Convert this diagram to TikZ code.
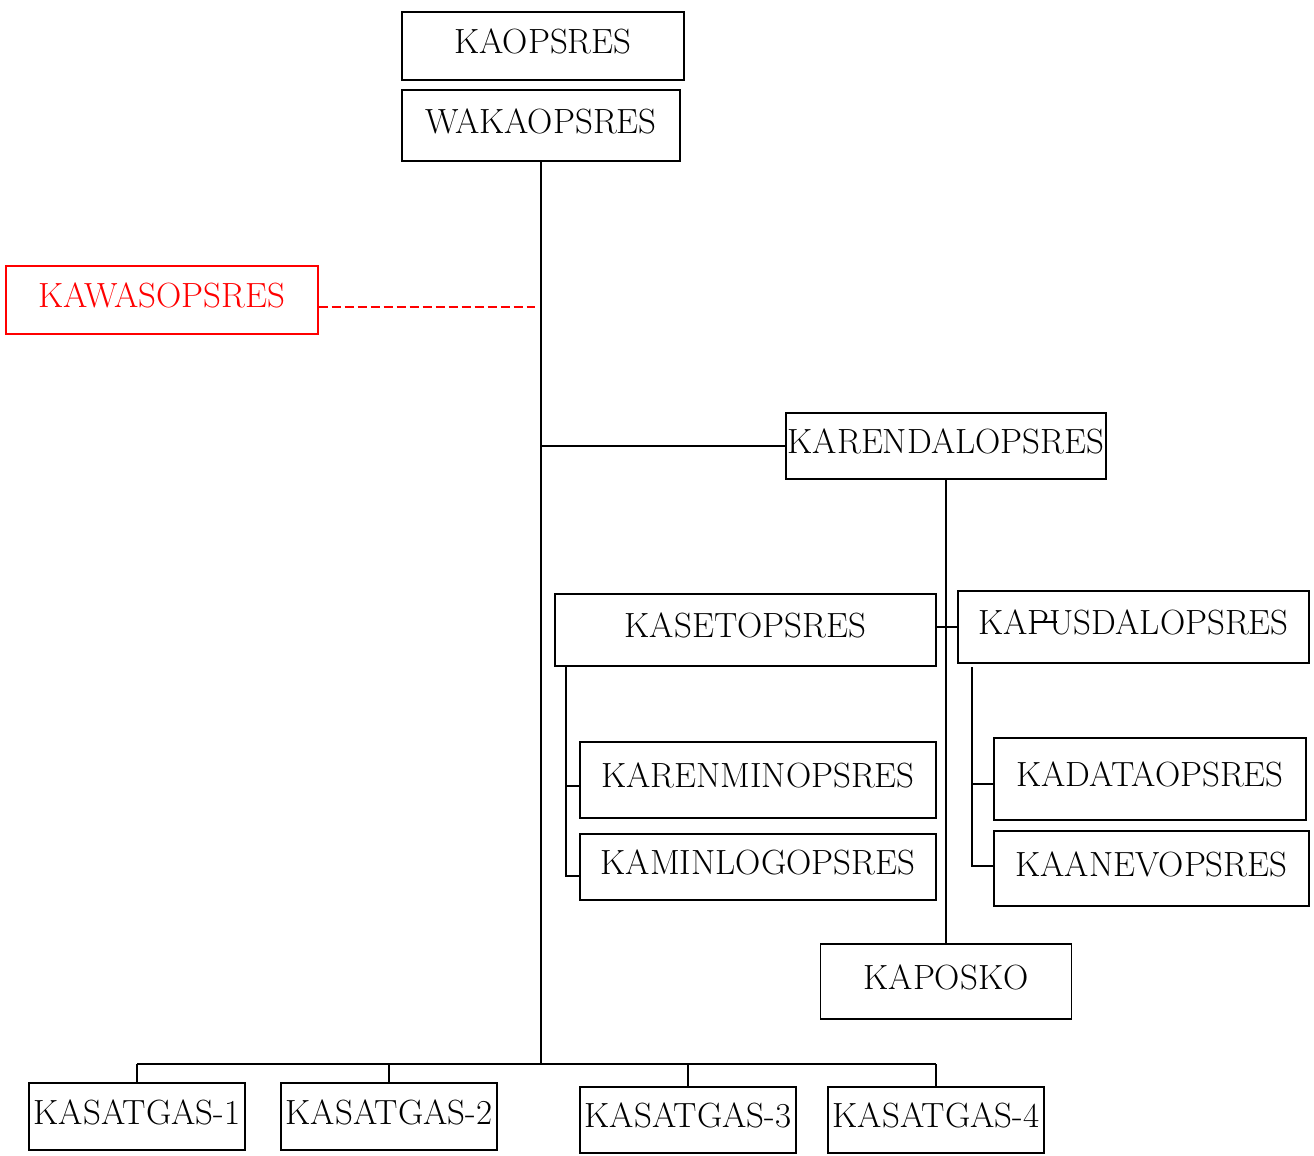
\documentclass[tikz,border=0pt]{standalone}
\usepackage{tikz}

\begin{document}
\begin{tikzpicture}[x=1pt,y=-1pt]
\tikzstyle{unit}=[rectangle, draw=black, line width=1.2pt, inner sep=0pt, text height=24pt, text depth=9pt, font=\fontsize{35}{40}\selectfont]
\tikzstyle{outside}=[unit, draw=red, text=red]
\tikzstyle{link}=[line width=2pt]
\tikzstyle{drop}=[line width=1.5pt]
\tikzstyle{tie}=[red, line width=1.5pt, dash pattern=on 9pt off 4pt]
\useasboundingbox (0,0) rectangle (1314,1156);
  \node[unit, minimum width=282pt, minimum height=68pt] (kaops) at (543,46) {KAOPSRES};
  \node[unit, minimum width=278pt, minimum height=71pt] (wakaops) at (541,125.5) {WAKAOPSRES};
  \node[outside, minimum width=312pt, minimum height=68pt] (kawas) at (162,300) {KAWASOPSRES};
  \node[unit, minimum width=320pt, minimum height=66pt] (karendal) at (946,446) {KARENDALOPSRES};
  \node[unit, minimum width=381pt, minimum height=72pt] (kaset) at (745.5,630) {KASETOPSRES};
  \node[unit, minimum width=351pt, minimum height=72pt] (kapus) at (1133.5,627) {KAPUSDALOPSRES};
  \node[unit, minimum width=356pt, minimum height=76pt] (karenmin) at (758,780) {KARENMINOPSRES};
  \node[unit, minimum width=356pt, minimum height=66pt] (kamin) at (758,867) {KAMINLOGOPSRES};
  \node[unit, minimum width=312pt, minimum height=82pt] (kadata) at (1150,779) {KADATAOPSRES};
  \node[unit, minimum width=315pt, minimum height=75pt] (kaanev) at (1151.5,868.5) {KAANEVOPSRES};
  \node[unit, minimum width=251pt, minimum height=75pt] (kaposko) at (946,981.5) {KAPOSKO};
  \node[unit, minimum width=216pt, minimum height=67pt] (gas1) at (137,1116.5) {KASATGAS-1};
  \node[unit, minimum width=216pt, minimum height=67pt] (gas2) at (389,1116.5) {KASATGAS-2};
  \node[unit, minimum width=216pt, minimum height=66pt] (gas3) at (688,1120) {KASATGAS-3};
  \node[unit, minimum width=216pt, minimum height=66pt] (gas4) at (936,1120) {KASATGAS-4};
  \coordinate (trunkend) at (541,1064);
  \coordinate (tieend) at (535,307);
  \coordinate (setrail) at (566,666);
  \coordinate (pusrail) at (972,667);
  % trunk and branches
  \draw[link] (wakaops.south) -- (trunkend);
  \draw[tie] ([yshift=-7pt]kawas.east) -- (tieend);
  \draw[link] (wakaops.south |- karendal.west) -- (karendal.west);
  \draw[link] (karendal.south) -- (kaposko.north);
  \draw[link] (kaset.east |- kapus.west) -- (kapus.west);
  \draw[link] ([xshift=75pt,yshift=5pt]kapus.west) -- ++(25,0);
  % sub branches
  \draw[link] (setrail) |- ([yshift=-9pt]kamin.west);
  \draw[link] (setrail |- 0,786) -- ([yshift=-6pt]karenmin.west);
  \draw[link] (pusrail) |- ([yshift=2.5pt]kaanev.west);
  \draw[link] (pusrail |- 0,784) -- ([yshift=-5pt]kadata.west);
  % bottom row
  \draw[link] (gas1.north |- trunkend) -- (gas4.north |- trunkend);
  \draw[drop] (gas1.north) -- (gas1.north |- trunkend);
  \draw[drop] (gas2.north) -- (gas2.north |- trunkend);
  \draw[drop] (gas3.north) -- (gas3.north |- trunkend);
  \draw[drop] (gas4.north) -- (gas4.north |- trunkend);
\end{tikzpicture}
\end{document}
